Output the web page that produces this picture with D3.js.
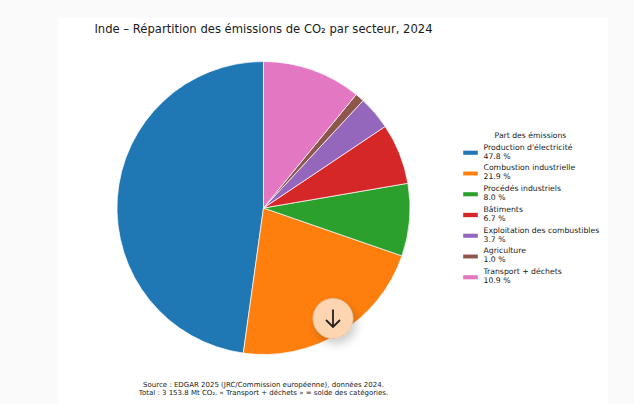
<!DOCTYPE html>
<html><head><meta charset="utf-8">
<script src="https://cdn.jsdelivr.net/npm/d3@7"></script>
<style>html,body{margin:0;padding:0;background:#fafafa;overflow:hidden}svg{display:block}text{font-family:"DejaVu Sans";fill:#1a1a1a}</style>
</head><body><svg id="c" width="634" height="404"></svg>
<script>
const categories=["Production d'électricité","Combustion industrielle","Procédés industriels","Bâtiments","Exploitation des combustibles","Agriculture","Transport + déchets"];
const shares=[47.8,21.9,8.0,6.7,3.7,1.0,10.9];
const shareLabels=["47.8 %","21.9 %","8.0 %","6.7 %","3.7 %","1.0 %","10.9 %"];
const colors=["#1f77b4","#ff7f0e","#2ca02c","#d62728","#9467bd","#8c564b","#e377c2"];
const titleText="Inde – Répartition des émissions de CO₂ par secteur, 2024";
const legendTitle="Part des émissions";
const sourceLines=["Source : EDGAR 2025 (JRC/Commission européenne), données 2024.","Total : 3 153.8 Mt CO₂. « Transport + déchets » = solde des catégories."];

const svg=d3.select("#c");
const defs=svg.append("defs");
const f=defs.append("filter").attr("id","sh").attr("x","-50%").attr("y","-50%").attr("width","200%").attr("height","200%");
f.append("feDropShadow").attr("dx",3).attr("dy",5).attr("stdDeviation",5).attr("flood-color","#000").attr("flood-opacity",0.2);
svg.append("rect").attr("x",58).attr("y",18).attr("width",550).attr("height",386).attr("fill","#fff");
svg.append("text").attr("x",263.5).attr("y",33).attr("text-anchor","middle").attr("font-size",11.6).text(titleText);

const pie=d3.pie().sort(null).startAngle(0).endAngle(-2*Math.PI);
const arc=d3.arc().innerRadius(0).outerRadius(146.5);
svg.append("g").attr("transform","translate(263.5,208)")
 .selectAll("path").data(pie(shares)).join("path")
 .attr("d",arc).attr("fill",(d,i)=>colors[i]).attr("stroke","#fff").attr("stroke-width",0.7);

svg.append("text").attr("x",530.5).attr("y",138).attr("text-anchor","middle").attr("font-size",7.7).text(legendTitle);
const y=d3.scalePoint().domain(categories).range([152,276.5]);
const lg=svg.append("g").selectAll("g").data(categories).join("g").attr("transform",d=>`translate(0,${y(d)})`);
lg.append("rect").attr("x",463).attr("y",-1.5).attr("width",15).attr("height",4.5).attr("fill",(d,i)=>colors[i]).attr("stroke","#fff").attr("stroke-width",0.4);
lg.append("text").attr("x",483.5).attr("y",-2.5).attr("font-size",7.73).text(d=>d);
lg.append("text").attr("x",483.5).attr("y",6.5).attr("font-size",7.73).text((d,i)=>shareLabels[i]);

svg.selectAll("text.src").data(sourceLines).join("text").attr("class","src").attr("x",263.5).attr("y",(d,i)=>386.5+i*8.5).attr("text-anchor","middle").attr("font-size",7).text(d=>d);

svg.append("circle").attr("cx",333).attr("cy",318.5).attr("r",20).attr("fill","#fdd5b1").attr("stroke","#d9c4b0").attr("stroke-width",0.8).attr("filter","url(#sh)");
svg.append("path").attr("d","M333 309.5V326.5M326 320L333 327L340 320").attr("fill","none").attr("stroke","#222").attr("stroke-width",1.8);
</script></body></html>
